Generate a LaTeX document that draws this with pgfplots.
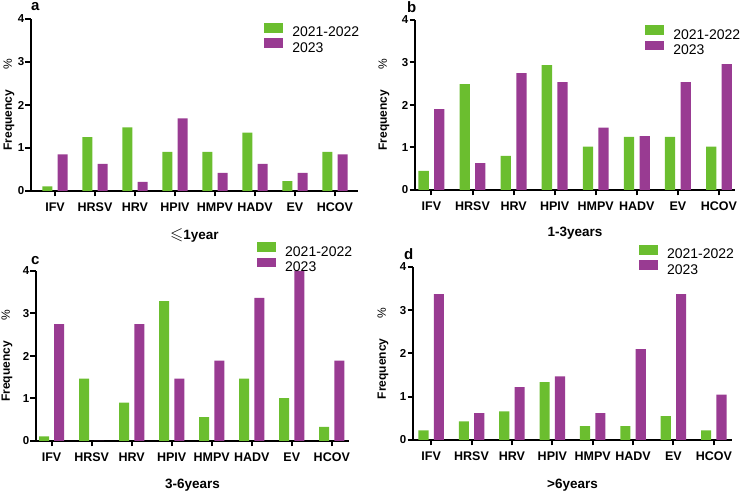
\documentclass[border=0pt]{standalone}
\usepackage{pgfplots}
\pgfplotsset{compat=1.18}
\usepackage{amssymb}
\usepackage{fontspec}
\setmainfont{Liberation Sans}
\definecolor{cgreen}{HTML}{6BBE2F}
\definecolor{cpurple}{HTML}{993B92}

\pgfplotsset{
 panel/.style={
  scale only axis, anchor=south west,
  ymin=0, ymax=4, ytick={0,1,2,3,4},
  xtick={0,1,2,3,4,5,6,7},
  xticklabels={IFV,HRSV,HRV,HPIV,HMPV,HADV,EV,HCOV},
  axis x line*=bottom, axis y line*=left,
  axis line style={line width=2pt, black},
  tick style={line width=2pt, black},
  tick align=outside, major tick length=5.5pt,
  /pgf/number format/assume math mode=true,
  xticklabel style={font=\bfseries\fontsize{12.5}{14}\selectfont, yshift=-3pt},
  yticklabel style={font=\bfseries\fontsize{11.5}{13}\selectfont, inner sep=1pt},
  ylabel={Frequency\hspace{20pt}{\mdseries\%}},
  ylabel style={font=\bfseries\fontsize{12}{14}\selectfont, anchor=center},
  xlabel style={font=\bfseries\fontsize{13.5}{15}\selectfont, anchor=center},
  legend style={draw=none, fill=none, anchor=north west, legend cell align=left,
    font=\fontsize{14}{16}\selectfont, inner sep=0pt,
    nodes={inner sep=0pt, text height=10pt, text depth=1.5pt},
    column sep=9pt, row sep=0pt},
 },
 gbar/.style={ybar, bar width=0.25, bar shift=-0.19, fill=cgreen, draw=none,
   legend image code/.code={\fill[cgreen] (0pt,0pt) rectangle (19pt,9.5pt);}},
 pbar/.style={ybar, bar width=0.25, bar shift=0.19, fill=cpurple, draw=none,
   legend image code/.code={\fill[cpurple] (0pt,0pt) rectangle (19pt,9.5pt);}},
}

\begin{document}
\begin{tikzpicture}[x=1pt,y=1pt]
\path[use as bounding box] (0,0) rectangle (744,494);

% panel a
\begin{axis}[panel, at={(31pt,303pt)}, width=327pt, height=172pt,
  xmin=-0.6, xmax=7.575,
  ylabel style={at={([xshift=-22pt]axis description cs:0,0.5)}},
  xlabel={{\fontsize{17}{17}\selectfont$\leqslant$}1year},
  xlabel style={at={([yshift=-44pt]axis description cs:0.5,0)}},
  legend style={at={(rel axis cs:0.713,0.977)}}]
\addplot[gbar] coordinates {(0,0.11) (1,1.25) (2,1.48) (3,0.91) (4,0.91) (5,1.36) (6,0.23) (7,0.91)};
\addplot[pbar] coordinates {(0,0.85) (1,0.63) (2,0.21) (3,1.69) (4,0.42) (5,0.63) (6,0.42) (7,0.85)};
\legend{2021-2022,2023}
\end{axis}

% panel b
\begin{axis}[panel, at={(415pt,304pt)}, width=320pt, height=170pt,
  xmin=-0.40, xmax=7.39,
  ylabel style={at={([xshift=-31pt]axis description cs:0,0.5)}},
  xlabel={1-3years},
  xlabel style={at={([yshift=-43pt]axis description cs:0.5,0)}},
  legend style={at={(rel axis cs:0.719,0.97)}}]
\addplot[gbar] coordinates {(0,0.45) (1,2.49) (2,0.80) (3,2.94) (4,1.02) (5,1.25) (6,1.25) (7,1.02)};
\addplot[pbar] coordinates {(0,1.90) (1,0.63) (2,2.75) (3,2.54) (4,1.47) (5,1.27) (6,2.54) (7,2.96)};
\legend{2021-2022,2023}
\end{axis}

% panel c
\begin{axis}[panel, at={(36pt,53pt)}, width=313pt, height=170pt,
  xmin=-0.39, xmax=7.43,
  ylabel style={at={([xshift=-29pt]axis description cs:0,0.5)}},
  xlabel={3-6years},
  xlabel style={at={([yshift=-44pt]axis description cs:0.5,0)}},
  legend style={at={(rel axis cs:0.706,1.17)}}]
\addplot[gbar] coordinates {(0,0.11) (1,1.47) (2,0.90) (3,3.29) (4,0.56) (5,1.47) (6,1.01) (7,0.33)};
\addplot[pbar] coordinates {(0,2.75) (1,0) (2,2.75) (3,1.47) (4,1.89) (5,3.37) (6,4.00) (7,1.89)};
\legend{2021-2022,2023}
\end{axis}

% panel d
\begin{axis}[panel, at={(413pt,54pt)}, width=319pt, height=173pt,
  xmin=-0.45, xmax=7.45,
  ylabel style={at={([xshift=-30pt]axis description cs:0,0.5)}},
  xlabel={>6years},
  xlabel style={at={([yshift=-45pt]axis description cs:0.5,0)}},
  legend style={at={(rel axis cs:0.708,1.127)}}]
\addplot[gbar] coordinates {(0,0.22) (1,0.43) (2,0.66) (3,1.34) (4,0.32) (5,0.32) (6,0.55) (7,0.22)};
\addplot[pbar] coordinates {(0,3.37) (1,0.62) (2,1.22) (3,1.47) (4,0.62) (5,2.10) (6,3.37) (7,1.05)};
\legend{2021-2022,2023}
\end{axis}

\node[font=\bfseries\fontsize{15}{15}\selectfont, anchor=base west, inner sep=0pt] at (31,483) {a};
\node[font=\bfseries\fontsize{15}{15}\selectfont, anchor=base west, inner sep=0pt] at (407,481) {b};
\node[font=\bfseries\fontsize{15}{15}\selectfont, anchor=base west, inner sep=0pt] at (31,229) {c};
\node[font=\bfseries\fontsize{15}{15}\selectfont, anchor=base west, inner sep=0pt] at (404,234) {d};
\end{tikzpicture}
\end{document}
